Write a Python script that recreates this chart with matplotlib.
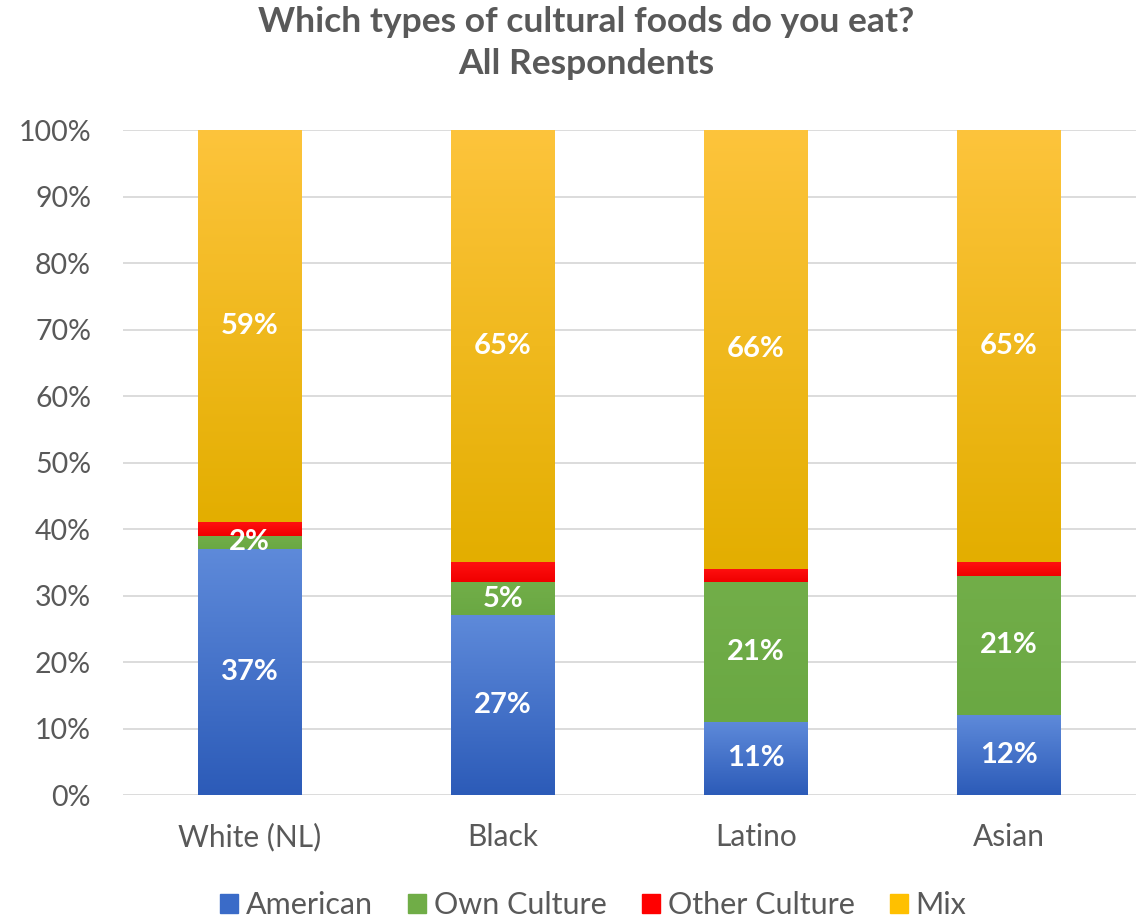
import numpy as np
import matplotlib
matplotlib.use("Agg")
from matplotlib import pyplot as plt
from matplotlib.colors import LinearSegmentedColormap

plt.rcParams['font.family'] = ['Lato', 'DejaVu Sans']

groups = ["White (NL)", "Black", "Latino", "Asian"]
series = ["American", "Own Culture", "Other Culture", "Mix"]
american = [37, 27, 11, 12]
own_culture = [2, 5, 21, 21]
other_culture = [2, 3, 2, 2]
mix = [59, 65, 66, 65]
labelled = [True, True, False, True]

# (top colour, bottom colour) for each segment's vertical gradient
shades = [("#5e8ada", "#2c5bb8"),
          ("#72ae49", "#6aa843"),
          ("#ff1010", "#f00000"),
          ("#fdc43c", "#e3ae00")]
legend_colors = ["#3a6bc8", "#70ad47", "#ff0000", "#ffc000"]
text_gray = "#595959"

fig = plt.figure(figsize=(11.43, 9.19), dpi=100)
ax = fig.add_axes([0.1076, 0.1349, 0.886, 0.7236])

x = np.arange(len(groups))
bar_w = 0.41
bottom = np.zeros(len(groups))
grad = np.linspace(0, 1, 256).reshape(-1, 1)

for name, vals, (top_c, bot_c), show in zip(series, [american, own_culture, other_culture, mix],
                                            shades, labelled):
    vals = np.array(vals, dtype=float)
    bars = ax.bar(x, vals, bar_w, bottom=bottom, facecolor="none", edgecolor="none",
                  label=name, zorder=2)
    cmap = LinearSegmentedColormap.from_list(name, [bot_c, top_c])
    for rect in bars:
        x0, y0 = rect.get_x(), rect.get_y()
        ax.imshow(grad, cmap=cmap, origin="lower", aspect="auto", interpolation="bilinear",
                  extent=(x0, x0 + rect.get_width(), y0, y0 + rect.get_height()), zorder=2)
    if show:
        ax.bar_label(bars, labels=[f"{v:g}%" for v in vals], label_type="center",
                     color="white", fontsize=21, fontweight="bold", zorder=4)
    bottom += vals

ax.set_xlim(-0.5, len(groups) - 0.5)
ax.set_ylim(0, 100)
ax.set_yticks(np.arange(0, 101, 10))
ax.set_yticklabels([f"{t}%" for t in range(0, 101, 10)])
ax.set_xticks(x)
ax.set_xticklabels(groups)
ax.tick_params(axis="y", length=0, labelsize=20.5, colors=text_gray, pad=23)
ax.tick_params(axis="x", length=0, labelsize=21.5, colors=text_gray, pad=20)
ax.yaxis.grid(True, color="#d9d9d9", linewidth=1.3, zorder=0)
ax.set_axisbelow(True)
for s in ax.spines.values():
    s.set_visible(False)

fig.text(0.513, 0.993, "Which types of cultural foods do you eat?\nAll Respondents",
         ha="center", va="top", fontsize=25.5, fontweight="bold", color=text_gray,
         linespacing=1.38)

handles = [plt.Rectangle((0, 0), 1, 1, color=c) for c in legend_colors]
fig.legend(handles, series, loc="lower center", bbox_to_anchor=(0.519, -0.03), ncol=4,
           frameon=False, fontsize=22, labelcolor=text_gray, handlelength=0.6,
           handleheight=0.6, handletextpad=0.25, columnspacing=1.15)

fig.savefig("out.png", dpi=100)
